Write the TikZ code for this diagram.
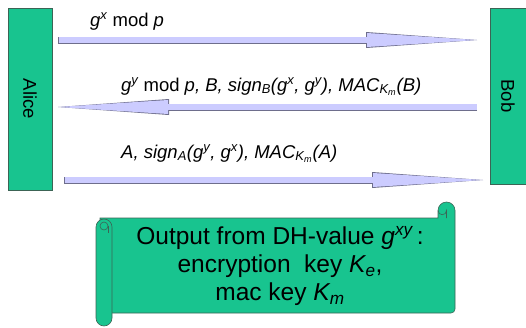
\documentclass[tikz,border=0pt]{standalone}
\usepackage{fontspec}
\setmainfont{Liberation Sans}
\usepackage{xcolor}
\usepackage{tikz}
\usetikzlibrary{arrows.meta, positioning}
\definecolor{rollgreen}{RGB}{24,196,143}
\definecolor{rollline}{RGB}{60,100,85}
\definecolor{msgfill}{RGB}{204,204,255}
\definecolor{msgline}{RGB}{110,110,140}
\tikzset{
  party/.style={rectangle, draw=rollline, line width=0.6pt, fill=rollgreen, inner sep=0pt,
                font=\fontsize{18.5}{22}\selectfont},
  msg/.style={draw=msgfill, line width=6pt, shorten <=0.5pt,
              -{Triangle[length=110pt, width=14pt, line width=0pt]},
              preaction={draw=msgline, line width=7pt, shorten <=0pt,
                         -{Triangle[length=111pt, width=16pt, line width=0pt]}}},
  msglbl/.style={anchor=base west, inner sep=0pt, font=\fontsize{18.5}{22}\selectfont},
  scroll/.style={draw=rollline, line width=0.6pt, fill=rollgreen},
  scrolltxt/.style={align=center, inner sep=0pt, font=\fontsize{24.5}{28}\selectfont},
}

\begin{document}
\begin{tikzpicture}[x=1pt, y=1pt]
  \useasboundingbox (0,0) rectangle (526,-327);
  \node[party, minimum width=44pt, minimum height=182pt] (alice) at (30,-99) {\rotatebox{-90}{Alice}};
  \node[party, minimum width=36pt, minimum height=176pt] (bob) at (508,-96) {\rotatebox{-90}{Bob}};

  \coordinate (m1s) at (58,-40);  \coordinate (m1e) at (477,-40);
  \coordinate (m2s) at (477,-107); \coordinate (m2e) at (58,-107);
  \coordinate (m3s) at (64,-180); \coordinate (m3e) at (483,-180);
  \draw[msg] (m1s) -- (m1e);
  \draw[msg] (m2s) -- (m2e);
  \draw[msg] (m3s) -- (m3e);
  \node[msglbl] (lbl1) at (90,-26) {\textit{g\textsuperscript{x}} mod \textit{p}};
  \node[msglbl] (lbl2) at (121,-91) {\textit{g\textsuperscript{y}} mod \textit{p, B, sign\textsubscript{B}(g\textsuperscript{x}, g\textsuperscript{y}), MAC\textsubscript{K\textsubscript{m}}(B)}};
  \node[msglbl] (lbl3) at (121,-158) {\textit{A, sign\textsubscript{A}(g\textsuperscript{y}, g\textsuperscript{x}), MAC\textsubscript{K\textsubscript{m}}(A)}};

  % scroll
  \filldraw[scroll] (100,-218) -- (438,-218) -- (438,-210.5) arc (180:0:8.5)
    -- (455,-309) arc (0:-90:4) -- (100,-313) -- cycle;
  \draw[scroll, fill=none] (446.5,-218) -- (446.5,-210.5) arc (0:-180:4.25);
  \filldraw[scroll, rounded corners=8pt] (96,-219) rectangle (112,-326);
  \draw[scroll] (104,-226) circle (4pt);
  \draw[scroll] (108,-226) -- (108,-233);
  \node[scrolltxt] (keys) at (280,-266) {Output from DH-value \textit{g\textsuperscript{xy}}\,:\\
    encryption\ \ key \textit{K\textsubscript{e}},\\ mac key \textit{K\textsubscript{m}}};
\end{tikzpicture}
\end{document}
